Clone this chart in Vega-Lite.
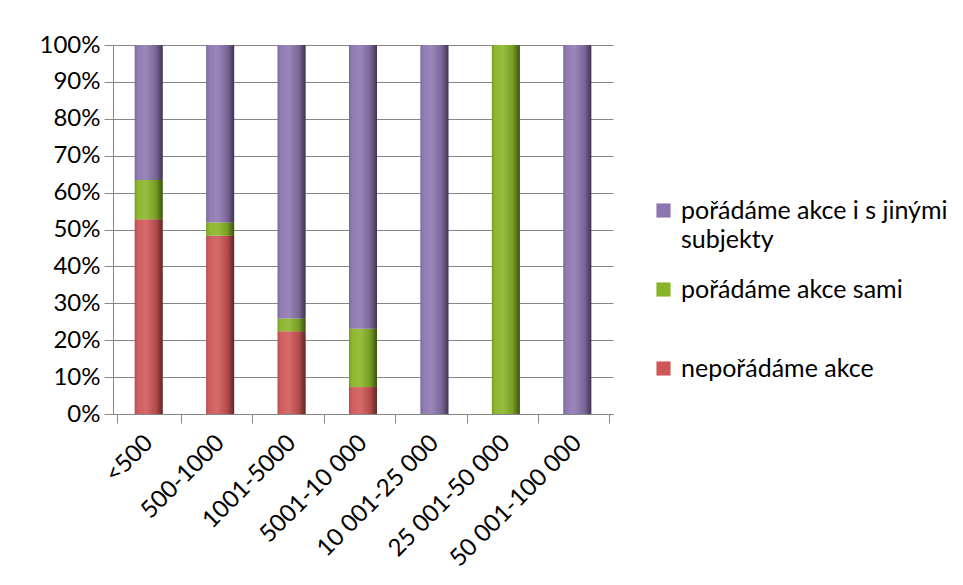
{
  "$schema": "https://vega.github.io/schema/vega-lite/v6.json",
  "autosize": {"type": "none"},
  "width": 500,
  "height": 369,
  "padding": {"left": 113, "top": 45, "right": 350, "bottom": 171},
  "background": "white",
  "config": {
    "font": "Lato",
    "view": {"stroke": null},
    "axis": {"labelFont": "Lato", "labelColor": "#000000", "labelFontSize": 24},
    "style": {"guide-label": {"lineHeight": 29}}
  },
  "data": {
    "values": [
      {"kategorie": "<500", "serie": "nepořádáme akce", "procento": 52.8},
      {"kategorie": "<500", "serie": "pořádáme akce sami", "procento": 10.6},
      {"kategorie": "<500", "serie": "pořádáme akce i s jinými subjekty", "procento": 36.6},
      {"kategorie": "500-1000", "serie": "nepořádáme akce", "procento": 48.3},
      {"kategorie": "500-1000", "serie": "pořádáme akce sami", "procento": 3.6},
      {"kategorie": "500-1000", "serie": "pořádáme akce i s jinými subjekty", "procento": 48.1},
      {"kategorie": "1001-5000", "serie": "nepořádáme akce", "procento": 22.4},
      {"kategorie": "1001-5000", "serie": "pořádáme akce sami", "procento": 3.5},
      {"kategorie": "1001-5000", "serie": "pořádáme akce i s jinými subjekty", "procento": 74.1},
      {"kategorie": "5001-10 000", "serie": "nepořádáme akce", "procento": 7.3},
      {"kategorie": "5001-10 000", "serie": "pořádáme akce sami", "procento": 15.8},
      {"kategorie": "5001-10 000", "serie": "pořádáme akce i s jinými subjekty", "procento": 76.9},
      {"kategorie": "10 001-25 000", "serie": "nepořádáme akce", "procento": 0},
      {"kategorie": "10 001-25 000", "serie": "pořádáme akce sami", "procento": 0},
      {"kategorie": "10 001-25 000", "serie": "pořádáme akce i s jinými subjekty", "procento": 100},
      {"kategorie": "25 001-50 000", "serie": "nepořádáme akce", "procento": 0},
      {"kategorie": "25 001-50 000", "serie": "pořádáme akce sami", "procento": 100},
      {"kategorie": "25 001-50 000", "serie": "pořádáme akce i s jinými subjekty", "procento": 0},
      {"kategorie": "50 001-100 000", "serie": "nepořádáme akce", "procento": 0},
      {"kategorie": "50 001-100 000", "serie": "pořádáme akce sami", "procento": 0},
      {"kategorie": "50 001-100 000", "serie": "pořádáme akce i s jinými subjekty", "procento": 100}
    ]
  },
  "transform": [
    {"calculate": "indexof(['nepořádáme akce','pořádáme akce sami','pořádáme akce i s jinými subjekty'], datum.serie)", "as": "poradi"}
  ],
  "encoding": {
    "x": {
      "field": "kategorie",
      "type": "nominal",
      "sort": null,
      "title": null,
      "axis": {
        "labelAngle": -45,
        "labelAlign": "right",
        "labelBaseline": "middle",
        "labelPadding": 16,
        "tickBand": "extent",
        "tickSize": 9,
        "tickColor": "#868686",
        "domainColor": "#868686",
        "grid": false
      }
    },
    "y": {
      "field": "procento",
      "type": "quantitative",
      "stack": "zero",
      "scale": {"domain": [0, 100], "nice": false},
      "title": null,
      "axis": {
        "values": [0, 10, 20, 30, 40, 50, 60, 70, 80, 90, 100],
        "labelExpr": "datum.value + '%'",
        "tickSize": 9,
        "labelPadding": 4,
        "tickColor": "#868686",
        "domainColor": "#868686",
        "gridColor": "#868686",
        "grid": true
      }
    },
    "order": {"field": "poradi", "type": "quantitative", "sort": "ascending"}
  },
  "layer": [
    {
      "mark": {"type": "bar", "size": 28},
      "encoding": {
        "color": {
          "field": "serie",
          "type": "nominal",
          "scale": {
            "domain": ["pořádáme akce i s jinými subjekty", "pořádáme akce sami", "nepořádáme akce"],
            "range": ["#8C76B0", "#88B426", "#D05656"]
          },
          "legend": {
            "title": null,
            "orient": "none",
            "legendX": 538,
            "legendY": 153,
            "symbolType": "square",
            "symbolSize": 200,
            "symbolStrokeWidth": 0,
            "labelFont": "Lato",
            "labelFontSize": 25,
            "labelColor": "#000000",
            "labelLimit": 400,
            "labelOffset": 5,
            "rowPadding": 24,
            "labelExpr": "datum.label == 'pořádáme akce i s jinými subjekty' ? ['pořádáme akce i s jinými', 'subjekty'] : [datum.label, ' ']"
          }
        }
      }
    },
    {
      "mark": {
        "type": "bar",
        "size": 28,
        "fill": {
          "gradient": "linear",
          "x1": 0, "x2": 1, "y1": 0, "y2": 0,
          "stops": [
            {"offset": 0, "color": "rgba(0,0,0,0.15)"},
            {"offset": 0.15, "color": "rgba(255,255,255,0.05)"},
            {"offset": 0.4, "color": "rgba(255,255,255,0.12)"},
            {"offset": 0.75, "color": "rgba(0,0,0,0.12)"},
            {"offset": 1, "color": "rgba(0,0,0,0.55)"}
          ]
        }
      }
    }
  ]
}
